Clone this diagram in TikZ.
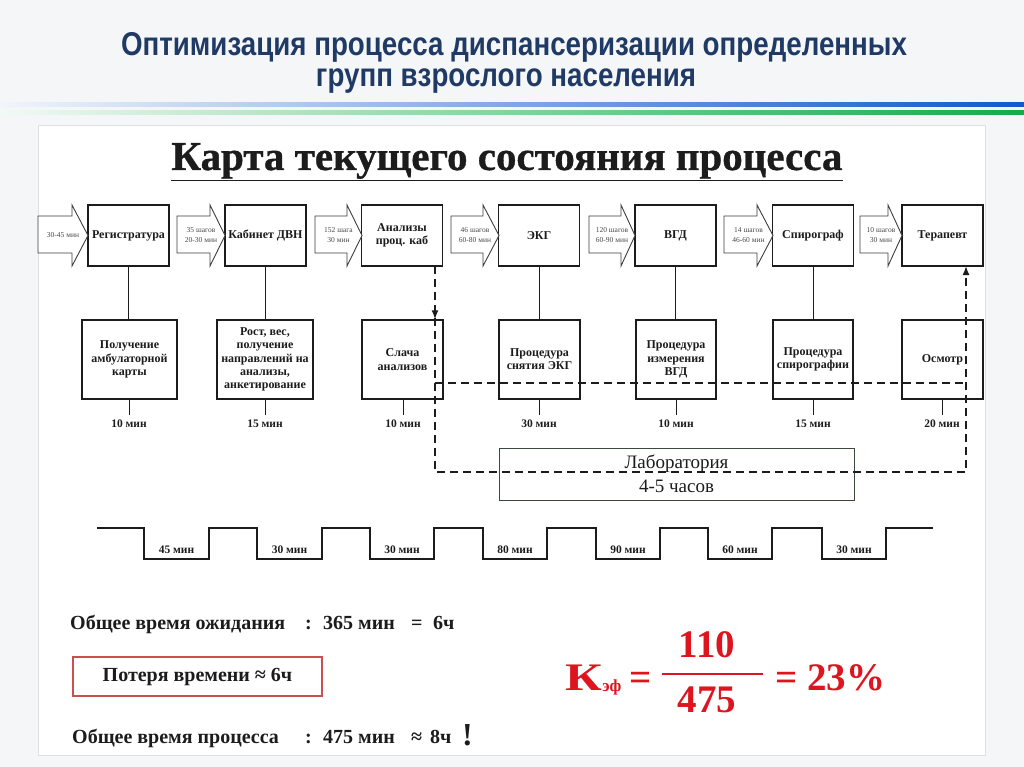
\documentclass[tikz,border=0pt]{standalone}
\usepackage{fontspec}
\usepackage{graphicx}
\setmainfont{Liberation Serif}
\newfontfamily\titlefont[FakeStretch=0.84]{Liberation Sans}
\newfontfamily\heavyserif[BoldFeatures={FakeBold=0.8}]{Liberation Serif}
\usetikzlibrary{arrows.meta}
\definecolor{titleblue}{RGB}{32,58,102}
\definecolor{slidebg}{RGB}{245,246,248}
\definecolor{lineblue}{RGB}{18,88,205}
\definecolor{linegreen}{RGB}{18,172,72}
\definecolor{kred}{RGB}{222,20,30}
\definecolor{boxred}{RGB}{200,80,78}
\definecolor{ink}{RGB}{28,28,28}
\definecolor{labline}{RGB}{60,72,62}

\tikzset{
 every node/.style={text=ink, inner sep=0pt},
 topbox/.style={draw=ink, line width=1.4pt, minimum width=81pt, minimum height=61pt, align=center, font=\bfseries\fontsize{12}{13.5}\selectfont},
 lowbox/.style={draw=ink, line width=1.4pt, minimum height=79pt, align=center, font=\bfseries\fontsize{12}{13.2}\selectfont},
 tlabel/.style={font=\bfseries\fontsize{11.5}{12}\selectfont, inner sep=5pt},
 wlabel/.style={font=\bfseries\fontsize{11.5}{12}\selectfont},
 arrtext/.style={font=\fontsize{7.5}{10}\selectfont, align=center, text=ink!80},
 blockarrow/.style={draw=ink!85, line width=0.9pt, fill=white},
 link/.style={draw=ink, line width=1pt},
 dashline/.style={draw=ink, line width=1.5pt, dash pattern=on 8pt off 5pt},
 endtip/.style={-{Latex[length=9pt,width=7pt]}},
 sumtext/.style={font=\bfseries\fontsize{20}{20}\selectfont, anchor=base west},
 formula/.style={font=\bfseries\fontsize{39}{39}\selectfont, text=kred},
}

\newcommand{\blockarr}[5]{%
 \draw[blockarrow] (#1,216) -- (#2,216) -- (#2,205) -- (#3,235.5) -- (#2,266) -- (#2,253) -- (#1,253) -- cycle;
 \node[arrtext] (#4) at ({(#1+#3)/2},235.5) {#5};}

\begin{document}
\begin{tikzpicture}[x=1pt,y=-1pt]
\useasboundingbox (0,0) rectangle (1024,767);
\fill[slidebg] (0,0) rectangle (1024,767);
\fill[white] (38,125) rectangle (985,755);
\draw[black!12, line width=0.6pt] (38,125) rectangle (985,755);

% header lines
\shade[left color=lineblue!6, middle color=lineblue!55, right color=lineblue] (0,102.5) rectangle (1024,106.5);
\shade[left color=linegreen!6, middle color=linegreen!55, right color=linegreen] (0,110.5) rectangle (1024,114.5);

% title
\node[font=\titlefont\bfseries\fontsize{33}{33}\selectfont, text=titleblue, anchor=base] (t1) at (514,56) {Оптимизация процесса диспансеризации определенных};
\node[font=\titlefont\bfseries\fontsize{33}{33}\selectfont, text=titleblue, anchor=base] (t2) at (506,87) {групп взрослого населения};

% heading
\node[font=\heavyserif\bfseries\fontsize{41}{41}\selectfont, anchor=base] (head) at (507,170) {\underline{Карта текущего состояния процесса}};

% top boxes
\node[topbox] (reg) at (128.5,235.5) {Регистратура};
\node[topbox] (kab) at (265.5,235.5) {Кабинет ДВН};
\node[topbox] (an)  at (402,235.5) {Анализы\\проц. каб};
\node[topbox] (ekg) at (539,235.5) {ЭКГ};
\node[topbox] (vgd) at (675.5,235.5) {ВГД};
\node[topbox] (spi) at (813,235.5) {Спирограф};
\node[topbox] (ter) at (942.5,235.5) {Терапевт};

% block arrows
\blockarr{38}{72}{88}{a1}{30-45 мин}
\blockarr{177}{210}{225}{a2}{35 шагов\\20-30 мин}
\blockarr{315}{347}{362}{a3}{152 шага\\30 мин}
\blockarr{451}{483}{499}{a4}{46 шагов\\60-80 мин}
\blockarr{589}{621}{635}{a5}{120 шагов\\60-90 мин}
\blockarr{724}{757}{773}{a6}{14 шагов\\46-60 мин}
\blockarr{860}{888}{902}{a7}{10 шагов\\30 мин}

% lower boxes
\node[lowbox, minimum width=95pt] (pol) at (129.5,359.5) {Получение\\амбулаторной\\карты};
\node[lowbox, minimum width=96pt] (rost) at (265,359.5) {Рост, вес,\\получение\\направлений на\\анализы,\\анкетирование};
\node[lowbox, minimum width=81pt] (sl) at (402.5,359.5) {Слача\\анализов};
\node[lowbox, minimum width=81pt] (pekg) at (539.5,359.5) {Процедура\\снятия ЭКГ};
\node[lowbox, minimum width=80pt] (pvgd) at (676,359.5) {Процедура\\измерения\\ВГД};
\node[lowbox, minimum width=80pt] (pspi) at (813,359.5) {Процедура\\спирографии};
\node[lowbox, minimum width=81pt] (osm) at (942.5,359.5) {Осмотр};

% connectors top -> lower
\draw[link] (reg.south) -- (reg.south |- pol.north);
\draw[link] (kab.south) -- (kab.south |- rost.north);
\draw[link] (ekg.south) -- (ekg.south |- pekg.north);
\draw[link] (vgd.south) -- (vgd.south |- pvgd.north);
\draw[link] (spi.south) -- (spi.south |- pspi.north);

% time labels
\node[tlabel] (m1) at (129,424) {10 мин};
\node[tlabel] (m2) at (265,424) {15 мин};
\node[tlabel] (m3) at (403,424) {10 мин};
\node[tlabel] (m4) at (539,424) {30 мин};
\node[tlabel] (m5) at (676,424) {10 мин};
\node[tlabel] (m6) at (813,424) {15 мин};
\node[tlabel] (m7) at (942,424) {20 мин};
\draw[link] (pol.south -| m1) -- (m1.north);
\draw[link] (rost.south -| m2) -- (m2.north);
\draw[link] (sl.south -| m3) -- (m3.north);
\draw[link] (pekg.south -| m4) -- (m4.north);
\draw[link] (pvgd.south -| m5) -- (m5.north);
\draw[link] (pspi.south -| m6) -- (m6.north);
\draw[link] (osm.south -| m7) -- (m7.north);

% laboratory
\node[draw=labline, line width=1pt, minimum width=355pt, minimum height=52pt, align=center, font=\fontsize{19}{24}\selectfont] (lab) at (676.5,474) {Лаборатория\\4-5 часов};

% dashed route
\coordinate (dA) at (435,266);
\coordinate (dB) at (435,472);
\coordinate (dC) at (966,472);
\coordinate (dD) at (966,266);
\coordinate (dE) at (435,383);
\coordinate (dF) at (966,383);
\draw[dashline, endtip] (dA) -- (dA |- sl.north);
\draw[dashline, endtip] (dA) -- (dB) -- (dC) -- (dD);
\draw[dashline] (dE) -- (dF);

% square wave
\draw[ink, line width=1.4pt] (97,528) -- (144,528) -- (144,559) -- (209,559) -- (209,528) -- (257,528) -- (257,559) -- (322,559) -- (322,528) -- (370,528) -- (370,559) -- (434,559) -- (434,528) -- (483,528) -- (483,559) -- (547,559) -- (547,528) -- (596,528) -- (596,559) -- (660,559) -- (660,528) -- (708,528) -- (708,559) -- (772,559) -- (772,528) -- (822,528) -- (822,559) -- (886,559) -- (886,528) -- (933,528);
\node[wlabel] (w1) at (176.5,550) {45 мин};
\node[wlabel] (w2) at (289.5,550) {30 мин};
\node[wlabel] (w3) at (402,550) {30 мин};
\node[wlabel] (w4) at (515,550) {80 мин};
\node[wlabel] (w5) at (628,550) {90 мин};
\node[wlabel] (w6) at (740,550) {60 мин};
\node[wlabel] (w7) at (854,550) {30 мин};

% summary
\node[sumtext] (s1) at (70,629) {Общее время ожидания};
\node[sumtext] (s1c) at (305,629) {:};
\node[sumtext] (s1v) at (323,629) {365 мин};
\node[sumtext] (s1e) at (411,629) {=};
\node[sumtext] (s1h) at (433,629) {6ч};

\node[draw=boxred, line width=1.2pt, minimum width=249pt, minimum height=39pt, font=\bfseries\fontsize{20}{20}\selectfont] (loss) at (197.5,676.5) {Потеря времени ≈ 6ч};

\node[sumtext] (s3) at (72,743) {Общее время процесса};
\node[sumtext] (s3c) at (305,743) {:};
\node[sumtext] (s3v) at (323,743) {475 мин};
\node[sumtext] (s3e) at (411,743) {≈};
\node[sumtext] (s3h) at (430,743) {8ч};
\node[sumtext, font=\bfseries\fontsize{32}{32}\selectfont] (s3x) at (462,745) {!};

% formula
\node[formula, anchor=base west] (K) at (565,690) {\scalebox{1.3}[1]{К}};
\node[formula, anchor=base west, font=\bfseries\fontsize{17}{17}\selectfont] (Ksub) at ([yshift=-1pt]K.base east) {эф};
\node[formula, anchor=base] (eq1) at (641,690) {=};
\node[formula, anchor=base] (num) at (707,657) {110};
\node[formula, anchor=base] (den) at (707,712) {475};
\draw[kred, line width=2.6pt] (662,674) -- (763,674);
\node[formula, anchor=base west] (res) at (775,690) {= 23\%};
\end{tikzpicture}
\end{document}
